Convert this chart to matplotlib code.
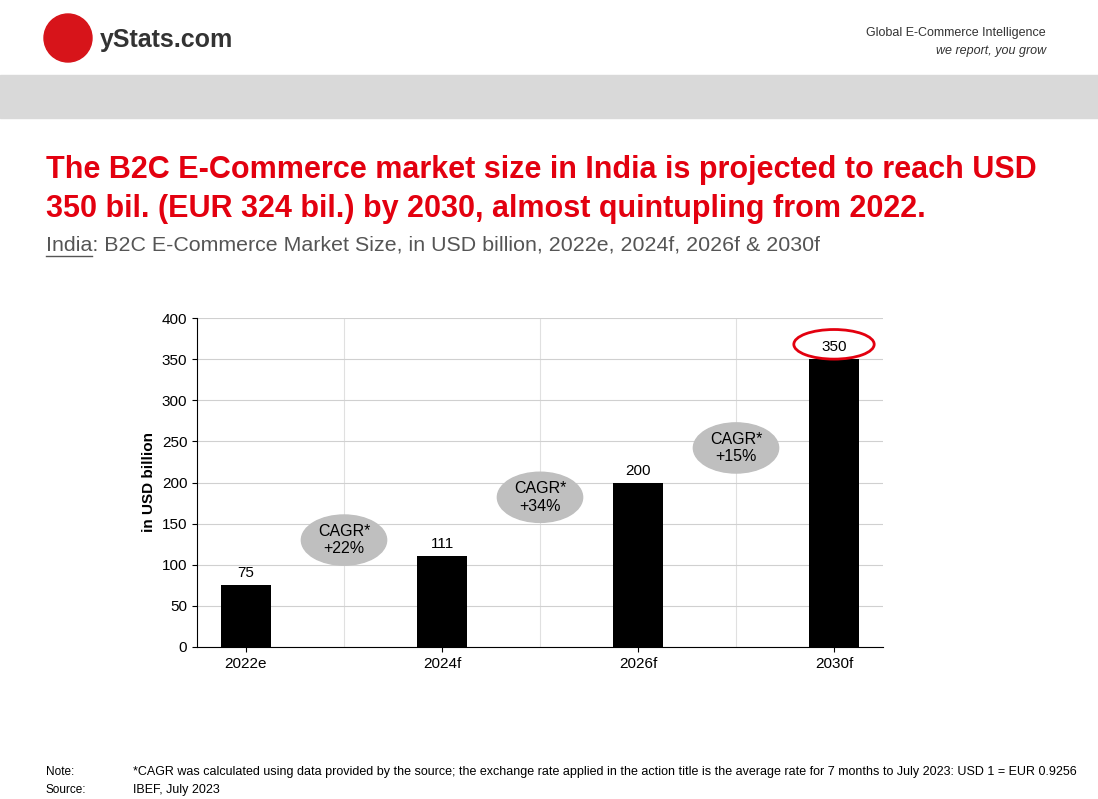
import matplotlib
matplotlib.use("Agg")
import matplotlib.pyplot as plt
from matplotlib.patches import Ellipse, Rectangle

plt.rcParams["font.family"] = "Liberation Sans"

categories = ["2022e", "2024f", "2026f", "2030f"]
values = [75, 111, 200, 350]
cagr_labels = ["CAGR*\n+22%", "CAGR*\n+34%", "CAGR*\n+15%"]
cagr_y = [130, 182, 242]

fig = plt.figure(figsize=(10.98, 7.99), dpi=100)
W, H = 1098, 799
def fx(p): return p / W
def fy(p): return 1 - p / H

# header
fig.patches.append(Rectangle((0, fy(118)), 1, (118-75)/H, transform=fig.transFigure, color="#d9d9d9", zorder=0))
fig.patches.append(Ellipse((fx(68), fy(38)), 48/W, 48/H, transform=fig.transFigure, color="#d7141a"))
fig.text(fx(100), fy(40), "yStats.com", fontsize=18, fontweight="bold", color="#333333", va="center")
fig.text(fx(1046), fy(33), "Global E-Commerce Intelligence", fontsize=9, color="#333333", ha="right", va="center")
fig.text(fx(1046), fy(51), "we report, you grow", fontsize=9, color="#333333", ha="right", va="center", style="italic")

fig.text(fx(46), fy(170), "The B2C E-Commerce market size in India is projected to reach USD", fontsize=22,
         fontweight="bold", color="#e3000f", va="center")
fig.text(fx(46), fy(209), "350 bil. (EUR 324 bil.) by 2030, almost quintupling from 2022.", fontsize=22,
         fontweight="bold", color="#e3000f", va="center")
fig.text(fx(46), fy(245), "India: B2C E-Commerce Market Size, in USD billion, 2022e, 2024f, 2026f & 2030f",
         fontsize=15.4, color="#555555", va="center")
fig.lines.append(plt.Line2D([fx(46), fx(92)], [fy(256), fy(256)], transform=fig.transFigure, color="#555555", lw=1))

ax = fig.add_axes([fx(197), fy(647), (883-197)/W, (647-318)/H])
pos = [0, 2, 4, 6]
ax.bar(pos, values, width=0.51, color="black", zorder=3)
for p, v in zip(pos, values):
    ax.text(p, v + 6, str(v), ha="center", va="bottom", fontsize=11)
ax.set_xlim(-0.5, 6.5)
ax.set_ylim(0, 400)
ax.set_yticks(range(0, 401, 50))
ax.set_xticks(pos)
ax.set_xticklabels(categories)
ax.tick_params(labelsize=11)
ax.yaxis.grid(True, color="#d0d0d0", lw=0.8, zorder=0)
for x in [1, 3, 5]:
    ax.axvline(x, color="#e0e0e0", lw=0.8, zorder=0)
for s in ["top", "right"]:
    ax.spines[s].set_visible(False)
ax.set_ylabel("in USD billion", fontsize=11, fontweight="bold")

for x, y, t in zip([1, 3, 5], cagr_y, cagr_labels):
    ax.add_patch(Ellipse((x, y), 0.87, 61, color="#bfbfbf", zorder=4))
    ax.text(x, y, t, ha="center", va="center", fontsize=11.5, zorder=5)
ax.add_patch(Ellipse((6, 368), 0.82, 36, fill=False, ec="#e3000f", lw=2, zorder=5, clip_on=False))

fig.text(fx(46), fy(772), "Note:", fontsize=8.5, va="center")
fig.text(fx(46), fy(790), "Source:", fontsize=8.5, va="center")
fig.text(fx(133), fy(772), "*CAGR was calculated using data provided by the source; the exchange rate applied in the action title is the average rate for 7 months to July 2023: USD 1 = EUR 0.9256",
         fontsize=9, va="center")
fig.text(fx(133), fy(790), "IBEF, July 2023", fontsize=9, va="center")

fig.savefig("out.png", dpi=100)
